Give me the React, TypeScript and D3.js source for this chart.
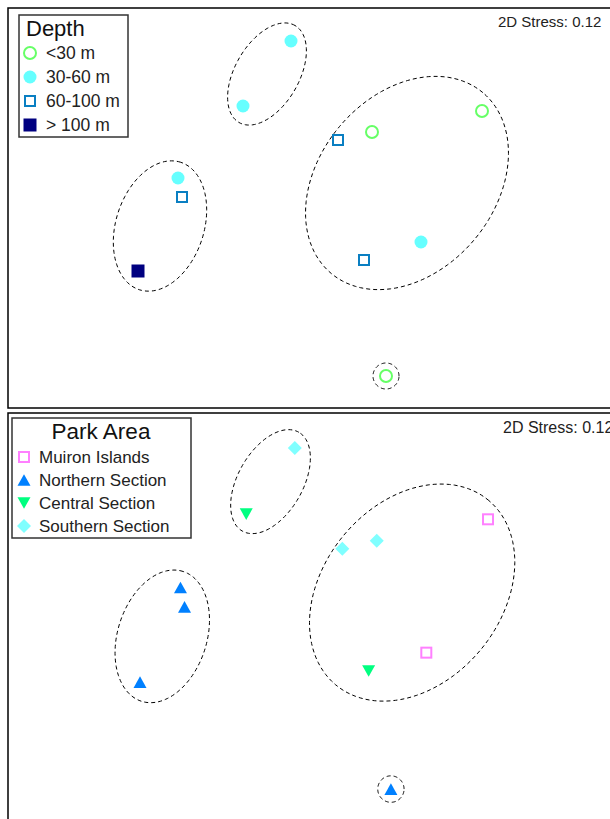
import React from "react";
import * as d3 from "d3";

// MDS coordinates of the samples
const sampleIds = ["S1", "S2", "S3", "S4", "S5", "S6", "S7", "S8", "S9", "S10", "S11"];
const mds1 = [-0.09, -0.57, -1.22, -1.18, -1.62, 0.72, 1.82, 0.38, 1.21, 0.64, 0.86];
const mds2 = [1.59, 0.94, 0.22, 0.03, -0.71, 0.68, 0.89, 0.6, -0.42, -0.6, -1.76];
const depthOf = ["30-60 m", "30-60 m", "30-60 m", "60-100 m", "> 100 m", "<30 m", "<30 m", "60-100 m", "30-60 m", "60-100 m", "<30 m"];
const areaOf = ["Southern Section", "Central Section", "Northern Section", "Northern Section", "Northern Section", "Southern Section", "Muiron Islands", "Southern Section", "Muiron Islands", "Central Section", "Northern Section"];

const depthLevels = ["<30 m", "30-60 m", "60-100 m", "> 100 m"];
const areaLevels = ["Muiron Islands", "Northern Section", "Central Section", "Southern Section"];

// cluster outlines (ellipses in MDS space): centre, semi-axes, rotation (deg)
const clusterCx = [-0.33, -1.4, 1.07, 0.86];
const clusterCy = [1.26, -0.26, 0.17, -1.76];
const clusterA = [0.56, 0.67, 1.18, 0.13];
const clusterB = [0.32, 0.44, 0.88, 0.13];
const clusterRot = [60, 72, 50, 0];

const stressText = "2D Stress: 0.12";

type Style = { shape: string; fill: string; stroke: string; size: number };

const depthStyle: Record<string, Style> = {
  "<30 m": { shape: "circle", fill: "none", stroke: "#66ff66", size: 6 },
  "30-60 m": { shape: "circle", fill: "#66ffff", stroke: "none", size: 6.5 },
  "60-100 m": { shape: "square", fill: "none", stroke: "#0a7fc2", size: 10 },
  "> 100 m": { shape: "square", fill: "#000080", stroke: "none", size: 13 },
};
const areaStyle: Record<string, Style> = {
  "Muiron Islands": { shape: "square", fill: "none", stroke: "#ff80ff", size: 10 },
  "Northern Section": { shape: "up", fill: "#0080ff", stroke: "none", size: 13 },
  "Central Section": { shape: "down", fill: "#00ff80", stroke: "none", size: 13 },
  "Southern Section": { shape: "diamond", fill: "#80ffff", stroke: "none", size: 14 },
};

function Marker({ x, y, st }: { x: number; y: number; st: Style }) {
  const sw = st.fill === "none" ? 2 : 0;
  if (st.shape === "circle") {
    return <circle cx={x} cy={y} r={st.size} fill={st.fill} stroke={st.stroke} strokeWidth={sw} />;
  }
  if (st.shape === "square") {
    const s = st.size;
    return <rect x={x - s / 2} y={y - s / 2} width={s} height={s} fill={st.fill} stroke={st.stroke} strokeWidth={sw} />;
  }
  if (st.shape === "up" || st.shape === "down") {
    const s = st.size;
    const h = s * 0.9;
    const dir = st.shape === "up" ? 1 : -1;
    const p = `M${x},${y - (dir * h) / 2}L${x + s / 2},${y + (dir * h) / 2}L${x - s / 2},${y + (dir * h) / 2}Z`;
    return <path d={p} fill={st.fill} />;
  }
  const r = st.size / 2;
  return <path d={`M${x},${y - r}L${x + r},${y}L${x},${y + r}L${x - r},${y}Z`} fill={st.fill} />;
}

function Panel({
  x0, y0, w, h, sx, sy, styleFor, levels, styles, title, legend, stressX, stressY, stressFs,
}: any) {
  const line = d3.line<[number, number]>().curve(d3.curveLinearClosed);
  const ellipses = clusterCx.map((cx, i) => {
    const pts: [number, number][] = d3.range(0, 120).map((k) => {
      const t = (k / 120) * 2 * Math.PI;
      const th = (clusterRot[i] * Math.PI) / 180;
      const ex = clusterA[i] * Math.cos(t);
      const ey = clusterB[i] * Math.sin(t);
      const dx = cx + ex * Math.cos(th) - ey * Math.sin(th);
      const dy = clusterCy[i] + ex * Math.sin(th) + ey * Math.cos(th);
      return [sx(dx), sy(dy)];
    });
    return line(pts) as string;
  });
  return (
    <g>
      <rect x={x0} y={y0} width={w} height={h} fill="white" stroke="black" strokeWidth={1.5} />
      {ellipses.map((d, i) => (
        <path key={i} d={d} fill="none" stroke="black" strokeWidth={1} strokeDasharray="4,3" />
      ))}
      {sampleIds.map((id, i) => (
        <Marker key={id} x={sx(mds1[i])} y={sy(mds2[i])} st={styles[styleFor[i]]} />
      ))}
      <text x={stressX} y={stressY} fontSize={stressFs} fill="#222">{stressText}</text>
      <rect x={legend.x} y={legend.y} width={legend.w} height={legend.h} fill="white" stroke="#333" strokeWidth={1.5} />
      <text x={legend.tx} y={legend.ty} fontSize={legend.tfs} textAnchor={legend.tanchor} fill="#111">{title}</text>
      {levels.map((lv: string, i: number) => (
        <g key={lv}>
          <Marker x={legend.mx} y={legend.ry0 + i * legend.dy} st={styles[lv]} />
          <text x={legend.lx} y={legend.ry0 + i * legend.dy + 6} fontSize={legend.fs} fill="#222">{lv}</text>
        </g>
      ))}
    </g>
  );
}

export default function App() {
  const sxTop = d3.scaleLinear().domain([-3, 3.1]).range([0, 610]);
  const syTop = d3.scaleLinear().domain([2, -2.08]).range([0, 408]);
  const sxBot = d3.scaleLinear().domain([-3, 3]).range([0.4, 607.4]);
  const syBot = d3.scaleLinear().domain([2, -2]).range([406.3, 813.5]);
  return (
    <svg width={610} height={819} style={{ position: "absolute", left: 0, top: 0, fontFamily: "'Liberation Sans', Arial, sans-serif" }}>
      <rect x={0} y={0} width={610} height={819} fill="white" />
      <Panel
        x0={8} y0={8} w={610} h={400} sx={sxTop} sy={syTop}
        styleFor={depthOf} levels={depthLevels} styles={depthStyle} title="Depth"
        legend={{ x: 19, y: 15, w: 109, h: 122, tx: 26, ty: 36, tfs: 22, tanchor: "start", mx: 30, lx: 46, ry0: 53, dy: 24, fs: 17.5 }}
        stressX={498} stressY={27} stressFs={15}
      />
      <Panel
        x0={8} y0={413} w={620} h={420} sx={sxBot} sy={syBot}
        styleFor={areaOf} levels={areaLevels} styles={areaStyle} title="Park Area"
        legend={{ x: 12, y: 418, w: 179, h: 120, tx: 101, ty: 439, tfs: 22.5, tanchor: "middle", mx: 24, lx: 39, ry0: 457, dy: 23, fs: 17 }}
        stressX={503} stressY={433} stressFs={16}
      />
    </svg>
  );
}
